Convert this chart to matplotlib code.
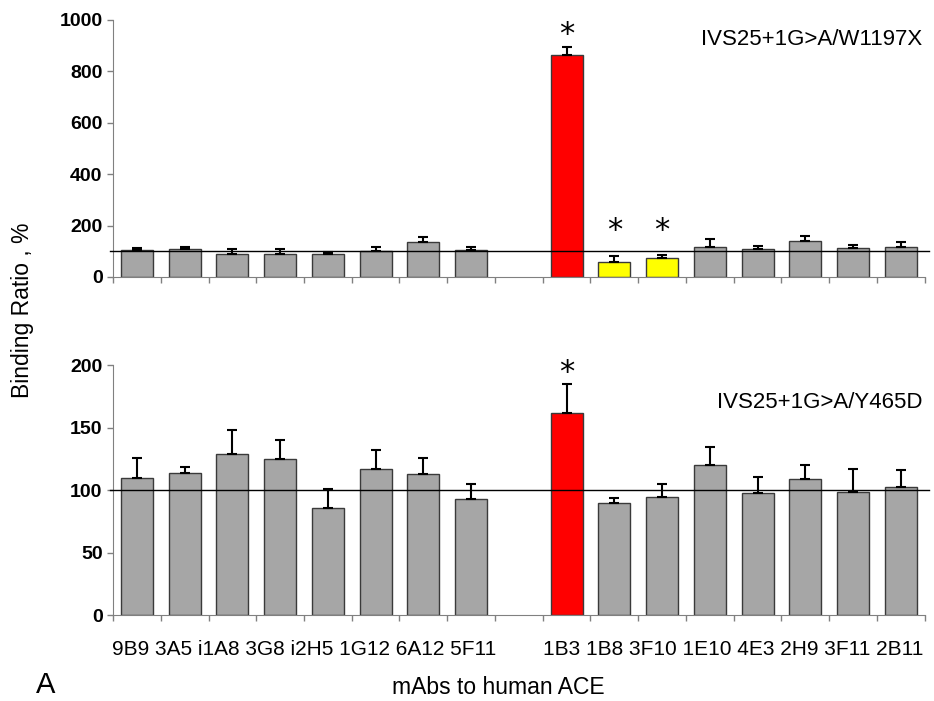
import numpy as np
import matplotlib.pyplot as plt

plt.rcParams['font.family'] = ['Liberation Sans', 'DejaVu Sans']

# mAbs, two groups of 8 with an empty slot between
mabs = ['9B9', '3A5', 'i1A8', '3G8', 'i2H5', '1G12', '6A12', '5F11',
        '1B3', '1B8', '3F10', '1E10', '4E3', '2H9', '3F11', '2B11']

# IVS25+1G>A/W1197X
top_val = [105, 109, 88, 91, 91, 100, 135, 106,
           862, 57, 74, 115, 110, 141, 113, 118]
top_err = [6, 9, 19, 18, 6, 18, 19, 9,
           34, 23, 13, 31, 10, 19, 12, 16]
top_col = ['gray'] * 8 + ['red', 'yellow', 'yellow'] + ['gray'] * 5
top_star = {'1B3': 945, '1B8': 180, '3F10': 180}

# IVS25+1G>A/Y465D
bot_val = [110, 114, 129, 125, 86, 117, 113, 93,
           162, 90, 95, 120, 98, 109, 99, 103]
bot_err = [16, 5, 19, 15, 15, 15, 13, 12,
           23, 4, 10, 15, 13, 11, 18, 13]
bot_col = ['gray'] * 8 + ['red'] + ['gray'] * 7
bot_star = {'1B3': 194}

colmap = {'gray': '#a6a6a6', 'red': '#ff0000', 'yellow': '#ffff00'}

pos = np.array(list(range(8)) + list(range(9, 17)))

fig = plt.figure(figsize=(9.34, 7.01), dpi=100)
ax1 = fig.add_axes([0.121, 0.605, 0.869, 0.3665])
ax2 = fig.add_axes([0.121, 0.122, 0.869, 0.357])


def panel(ax, vals, errs, cols, stars, ylim, yticks, label, label_y):
    ax.bar(pos, vals, width=0.67, color=[colmap[c] for c in cols],
           edgecolor='#3a3a3a', linewidth=1, zorder=2)
    ax.errorbar(pos, vals, yerr=[np.zeros(len(errs)), errs], fmt='none',
                ecolor='black', elinewidth=1.5, capsize=3.5, capthick=1.5,
                zorder=3)
    ax.axhline(100, xmin=-0.004, xmax=1.005, color='black', lw=1,
               zorder=4, clip_on=False)
    for k, v in stars.items():
        ax.text(pos[mabs.index(k)], v, '*', ha='center', va='center',
                fontsize=22, family='DejaVu Sans')
    ax.set_xlim(-0.5, 16.5)
    ax.set_ylim(*ylim)
    ax.set_yticks(yticks)
    ax.set_yticklabels([str(t) for t in yticks], fontsize=14,
                       fontweight='bold')
    ax.set_xticks(np.arange(-0.5, 17, 1))
    ax.set_xticklabels([])
    ax.tick_params(axis='both', which='major', color='#808080', length=4,
                   width=1)
    for s in ['top', 'right']:
        ax.spines[s].set_visible(False)
    for s in ['left', 'bottom']:
        ax.spines[s].set_color('#808080')
    ax.text(0.997, label_y, label, transform=ax.transAxes, ha='right',
            va='center', fontsize=16)


panel(ax1, top_val, top_err, top_col, top_star, (0, 1000),
      [0, 200, 400, 600, 800, 1000], 'IVS25+1G>A/W1197X', 0.925)
panel(ax2, bot_val, bot_err, bot_col, bot_star, (0, 200),
      [0, 50, 100, 150, 200], 'IVS25+1G>A/Y465D', 0.85)

# mAb names written as one row under each group
for grp in [slice(0, 8), slice(8, 16)]:
    ax2.text(pos[grp].mean(), -0.136, ' '.join(mabs[grp]),
             transform=ax2.get_xaxis_transform(), ha='center', va='center',
             fontsize=15)

fig.text(0.024, 0.557, 'Binding Ratio , %', rotation=90, ha='center',
         va='center', fontsize=16.5)
fig.text(0.533, 0.019, 'mAbs to human ACE', ha='center', va='center',
         fontsize=16.5)
fig.text(0.049, 0.023, 'A', ha='center', va='center', fontsize=21)

plt.savefig('out.png', dpi=100)
